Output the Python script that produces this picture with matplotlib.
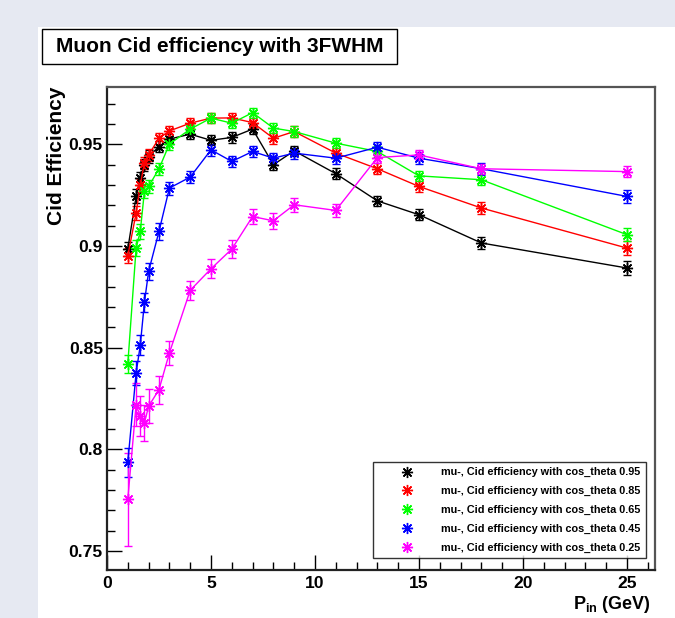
import matplotlib
matplotlib.use('Agg')
import matplotlib.pyplot as plt
from matplotlib.lines import Line2D
from matplotlib.patches import Rectangle
from matplotlib.ticker import FixedLocator, MultipleLocator

# momentum points (GeV)
p_in = [1, 1.4, 1.6, 1.8, 2, 2.5, 3, 4, 5, 6, 7, 8, 9, 11, 13, 15, 18, 25]

eff_095 = [0.8985, 0.9244, 0.9334, 0.940, 0.944, 0.9489, 0.9526, 0.955, 0.952, 0.9534,
           0.9575, 0.940, 0.9468, 0.9356, 0.9222, 0.9154, 0.9015, 0.8892]
err_095 = [0.0036, 0.0034, 0.0032, 0.003, 0.003, 0.0028, 0.0026, 0.0025, 0.0025, 0.0025,
           0.0025, 0.0028, 0.0026, 0.0026, 0.0026, 0.0026, 0.003, 0.0033]

eff_085 = [0.8952, 0.9162, 0.930, 0.941, 0.9448, 0.953, 0.9566, 0.9604, 0.9629, 0.963,
           0.9607, 0.953, 0.9563, 0.9457, 0.938, 0.9293, 0.9187, 0.899]
err_085 = [0.0036, 0.0034, 0.0032, 0.003, 0.003, 0.0028, 0.0026, 0.0025, 0.0025, 0.0025,
           0.0025, 0.0028, 0.0026, 0.0026, 0.0026, 0.0026, 0.003, 0.0033]

eff_065 = [0.842, 0.899, 0.9072, 0.927, 0.9293, 0.938, 0.9501, 0.9575, 0.9629, 0.9604,
           0.9656, 0.958, 0.9563, 0.9506, 0.9465, 0.9345, 0.9326, 0.9056]
err_065 = [0.0046, 0.004, 0.0038, 0.0035, 0.0033, 0.003, 0.0028, 0.0025, 0.0025, 0.0025,
           0.0025, 0.0025, 0.0025, 0.0025, 0.0026, 0.0026, 0.0028, 0.0033]

eff_045 = [0.7937, 0.8376, 0.8512, 0.8723, 0.8875, 0.9072, 0.9285, 0.9339, 0.9473, 0.9416,
           0.9465, 0.9432, 0.9457, 0.9432, 0.9486, 0.9432, 0.938, 0.9244]
err_045 = [0.0072, 0.0057, 0.005, 0.0047, 0.0043, 0.004, 0.0032, 0.003, 0.003, 0.0028,
           0.0027, 0.0027, 0.0027, 0.0027, 0.0028, 0.0028, 0.003, 0.0033]

eff_025 = [0.7754, 0.822, 0.8163, 0.813, 0.8212, 0.8294, 0.8474, 0.8782, 0.8888, 0.8985,
           0.9145, 0.9124, 0.9203, 0.9175, 0.9435, 0.9448, 0.938, 0.9366]
err_025 = [0.023, 0.0106, 0.0098, 0.0087, 0.0084, 0.0069, 0.006, 0.0048, 0.0047, 0.0046,
           0.0036, 0.0038, 0.0034, 0.003, 0.0028, 0.0025, 0.0025, 0.0028]

cos_theta = ['0.95', '0.85', '0.65', '0.45', '0.25']
colors = ['#000000', '#ff0000', '#00ff00', '#0000ff', '#ff00ff']
effs = [eff_095, eff_085, eff_065, eff_045, eff_025]
errs = [err_095, err_085, err_065, err_045, err_025]

y_ticks = [0.75, 0.8, 0.85, 0.9, 0.95]
y_ticklabels = ['0.75', '0.8', '0.85', '0.9', '0.95']
x_ticks = [0, 5, 10, 15, 20, 25]

plt.rcParams['font.family'] = ['Liberation Sans', 'DejaVu Sans']
plt.rcParams['font.weight'] = 'bold'
plt.rcParams['axes.labelweight'] = 'bold'
plt.rcParams['mathtext.fontset'] = 'custom'
plt.rcParams['mathtext.bf'] = 'Liberation Sans:bold'
plt.rcParams['mathtext.rm'] = 'Liberation Sans:bold'
plt.rcParams['mathtext.it'] = 'Liberation Sans:bold'

W, H = 675, 618
fig = plt.figure(figsize=(W / 100, H / 100), dpi=100)
fig.patch.set_facecolor('#e6e9f2')
# white canvas
fig.add_artist(Rectangle((38 / W, 0), (W - 38) / W, (H - 27) / H, transform=fig.transFigure,
                         facecolor='white', edgecolor='none', zorder=0))

ax = fig.add_axes([107 / W, (H - 570) / H, (655 - 107) / W, (570 - 87) / H])

star = (8, 2, 0)
for c, eff, err in zip(colors, effs, errs):
    ax.errorbar(p_in, eff, yerr=err, color=c, marker=star, ms=8, mew=1, lw=1,
                elinewidth=1, capsize=3, capthick=1)

ax.set_xlim(0, 26.35)
ax.set_ylim(0.7407, 0.9782)
ax.xaxis.set_major_locator(FixedLocator(x_ticks))
ax.xaxis.set_minor_locator(MultipleLocator(1))
ax.yaxis.set_major_locator(FixedLocator(y_ticks))
ax.set_yticklabels(y_ticklabels)
ax.yaxis.set_minor_locator(MultipleLocator(0.01))
ax.tick_params(which='both', direction='in', top=False, right=False, width=1, labelsize=12.6)
ax.tick_params(which='major', length=10.5)
ax.tick_params(which='minor', length=5.8)
ax.tick_params(axis='x', pad=4)
ax.tick_params(axis='y', pad=3)
for side in ['left', 'bottom']:
    ax.spines[side].set_linewidth(1.6)
    ax.spines[side].set_color('#222222')
for side in ['top', 'right']:
    ax.spines[side].set_linewidth(1.6)
    ax.spines[side].set_color('#555555')

ylab = ax.set_ylabel('Cid Efficiency', fontsize=15, fontweight='bold', ha='right', va='center')
ylab.set_rotation_mode('anchor')
ax.yaxis.set_label_coords(-0.093, 1.0)
ax.set_xlabel(r'$\mathbf{P_{in}}$ (GeV)', fontsize=13, fontweight='bold', ha='right', va='top')
ax.xaxis.set_label_coords(0.9927, -0.05)

handles = [Line2D([], [], ls='none', marker=star, ms=8, mew=1, color=c) for c in colors]
labels = ['mu-, Cid efficiency with cos_theta ' + t for t in cos_theta]
leg = ax.legend(handles, labels, loc='lower left', bbox_to_anchor=(0.485, 0.025),
                prop={'size': 7.8, 'weight': 'bold'}, frameon=True, fancybox=False,
                borderpad=0.5, handlelength=5.3, handletextpad=0.5, labelspacing=0.8,
                borderaxespad=0)
leg.get_frame().set_edgecolor('black')
leg.get_frame().set_linewidth(1)

# title box
fig.add_artist(Rectangle((42 / W, 1 - 64 / H), 355 / W, 35 / H, transform=fig.transFigure,
                         facecolor='white', edgecolor='black', lw=1, zorder=2))
fig.text((42 + 397) / 2 / W, 1 - 46.5 / H, 'Muon Cid efficiency with 3FWHM', fontsize=15,
         ha='center', va='center', zorder=3)

fig.savefig('out.png', dpi=100, facecolor=fig.get_facecolor())
